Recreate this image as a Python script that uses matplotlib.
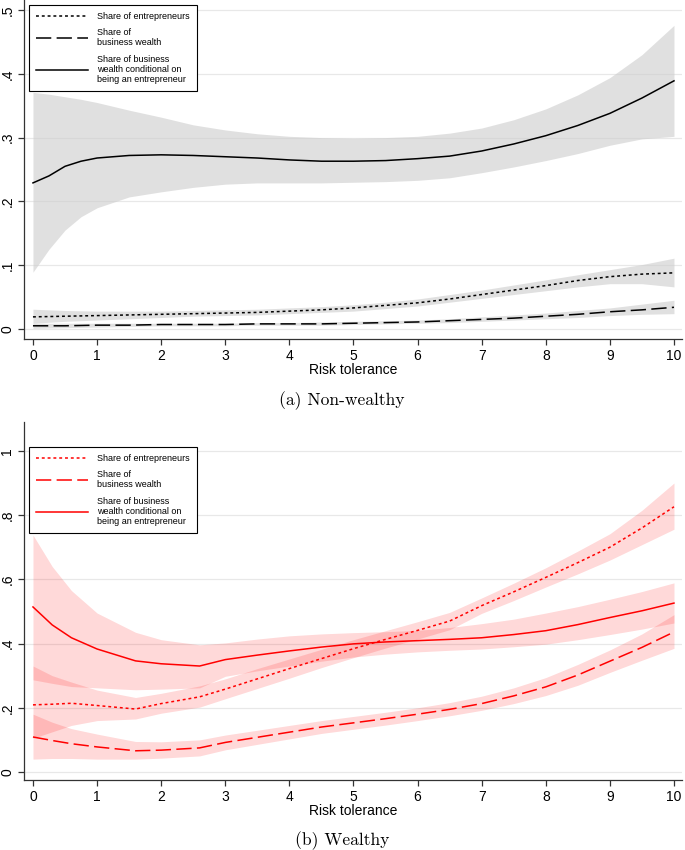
import numpy as np
import matplotlib
matplotlib.use('Agg')
import matplotlib.pyplot as plt
from matplotlib.lines import Line2D

plt.rcParams['font.family'] = ['Liberation Sans', 'DejaVu Sans']

# ---- panel (a): non-wealthy ----
x_a = [0, 0.5, 1, 1.5, 2, 2.5, 3, 3.5, 4, 4.5, 5, 5.5, 6, 6.5, 7, 7.5, 8, 8.5, 9, 9.5, 10]
ent_a = [.019, .020, .021, .022, .023, .024, .025, .026, .028, .030, .033, .037, .041, .047, .054, .061, .068, .076, .082, .086, .088]
ent_a_hi = [.031, .029, .028, .028, .028, .029, .030, .031, .033, .035, .038, .042, .047, .054, .061, .069, .077, .085, .093, .101, .111]
ent_a_lo = [.009, .012, .014, .016, .018, .020, .021, .022, .024, .026, .028, .032, .036, .042, .048, .054, .060, .066, .071, .071, .066]
bw_a = [.005, .005, .006, .006, .007, .007, .007, .008, .008, .008, .009, .010, .011, .013, .015, .017, .020, .023, .027, .030, .034]
bw_a_hi = [.009, .009, .009, .009, .009, .009, .009, .010, .010, .011, .012, .013, .014, .016, .019, .022, .025, .029, .033, .039, .045]
bw_a_lo = [.001, .002, .003, .004, .005, .005, .005, .006, .006, .006, .007, .008, .009, .010, .012, .014, .016, .018, .021, .023, .024]

x_a2 = [0, 0.25, 0.5, 0.75, 1, 1.5, 2, 2.5, 3, 3.5, 4, 4.5, 5, 5.5, 6, 6.5, 7, 7.5, 8, 8.5, 9, 9.5, 10]
cond_a = [.229, .240, .255, .263, .268, .272, .273, .272, .270, .268, .265, .263, .263, .264, .267, .271, .279, .290, .303, .319, .338, .362, .389]
cond_a_hi = [.371, .368, .364, .360, .355, .343, .332, .320, .312, .306, .302, .300, .299, .300, .302, .307, .315, .328, .345, .367, .394, .430, .476]
cond_a_lo = [.089, .125, .155, .176, .190, .207, .215, .222, .227, .229, .229, .229, .230, .231, .233, .237, .245, .254, .264, .275, .288, .298, .302]

# ---- panel (b): wealthy ----
x_b = [0, 0.3, 0.6, 1, 1.6, 2, 2.6, 3, 3.5, 4, 4.5, 5, 5.5, 6, 6.5, 7, 7.5, 8, 8.5, 9, 9.5, 10]
ent_b = [.209, .211, .214, .207, .196, .213, .234, .258, .290, .322, .353, .384, .413, .441, .470, .518, .561, .606, .652, .700, .760, .826]
ent_b_hi = [.330, .300, .280, .255, .232, .245, .268, .290, .322, .352, .382, .412, .440, .468, .497, .542, .588, .636, .688, .742, .815, .900]
ent_b_lo = [.105, .125, .145, .160, .165, .183, .202, .228, .260, .292, .325, .356, .386, .414, .443, .494, .534, .576, .617, .660, .708, .756]
bw_b = [.109, .098, .088, .078, .066, .068, .075, .092, .108, .124, .140, .153, .166, .180, .195, .213, .237, .265, .302, .345, .388, .436]
bw_b_hi = [.180, .155, .135, .118, .095, .094, .100, .115, .130, .145, .160, .173, .186, .200, .216, .236, .262, .294, .335, .380, .430, .490]
bw_b_lo = [.040, .042, .042, .040, .040, .043, .050, .069, .086, .103, .120, .133, .146, .160, .175, .192, .213, .238, .270, .310, .348, .385]
cond_b = [.514, .458, .418, .383, .346, .337, .330, .350, .364, .377, .389, .399, .405, .409, .413, .418, .428, .440, .459, .481, .502, .526]
cond_b_hi = [.738, .640, .565, .495, .435, .412, .396, .402, .414, .424, .430, .434, .437, .441, .450, .462, .476, .495, .515, .538, .562, .589]
cond_b_lo = [.287, .276, .266, .262, .256, .258, .262, .298, .315, .330, .345, .358, .367, .374, .379, .383, .390, .398, .412, .428, .445, .464]

xticks = list(range(11))
yticks_a = [0, .1, .2, .3, .4, .5]
ylabels_a = ['0', '.1', '.2', '.3', '.4', '.5']
yticks_b = [0, .2, .4, .6, .8, 1]
ylabels_b = ['0', '.2', '.4', '.6', '.8', '1']

leg_labels = ['Share of entrepreneurs', 'Share of\nbusiness wealth',
              'Share of business\nwealth conditional on\nbeing an entrepreneur']

DOT = (0, (1.9, 1.9))
DASH = (0, (10, 3.5))
LW = 1.1


def style_axes(ax, yticks, ylabels, ylim):
  ax.set_xlim(-0.14, 10.125)
  ax.set_ylim(*ylim)
  ax.set_xticks(xticks)
  ax.set_yticks(yticks)
  ax.set_yticklabels(ylabels, rotation = 90, va = 'center')
  ax.yaxis.grid(True, color = '#e8e8e8', lw = 0.9)
  ax.set_axisbelow(True)
  for s in ['top', 'right']:
    ax.spines[s].set_visible(False)
  for s in ['left', 'bottom']:
    ax.spines[s].set_color('#333333')
    ax.spines[s].set_linewidth(0.9)
  ax.tick_params(direction = 'out', length = 4, width = 0.9, color = '#333333', labelsize = 10, pad = 3)
  ax.set_xlabel('Risk tolerance', fontsize = 10, labelpad = 0)


def draw_panel(ax, color, band, alpha, data):
  for (xs, ys, lo, hi, ls) in data:
    ax.fill_between(xs, lo, hi, color = band, alpha = alpha, lw = 0)
  for (xs, ys, lo, hi, ls) in data:
    ax.plot(xs, ys, color = color, lw = LW, linestyle = ls)


def add_legend(ax, color, anchor):
  handles = [Line2D([], [], color = color, lw = LW, linestyle = DOT),
             Line2D([], [], color = color, lw = LW, linestyle = DASH),
             Line2D([], [], color = color, lw = LW)]
  leg = ax.legend(handles, leg_labels, loc = 'upper left', bbox_to_anchor = anchor,
                  bbox_transform = ax.figure.transFigure, fontsize = 6.5, frameon = True,
                  fancybox = False, framealpha = 1, edgecolor = 'black', borderaxespad = 0,
                  handlelength = 5.8, handletextpad = 1.0, borderpad = 0.75, labelspacing = 0.8)
  leg.get_frame().set_linewidth(0.8)


fig = plt.figure(figsize = (6.85, 8.5), dpi = 100)

ax1 = fig.add_axes([24 / 685, 1 - 339 / 850, 658 / 685, 339 / 850])
style_axes(ax1, yticks_a, ylabels_a, (-0.0157, 0.5157))
draw_panel(ax1, 'black', '#cccccc', 0.6, [
  (x_a, ent_a, ent_a_lo, ent_a_hi, DOT),
  (x_a, bw_a, bw_a_lo, bw_a_hi, DASH),
  (x_a2, cond_a, cond_a_lo, cond_a_hi, '-'),
])
add_legend(ax1, 'black', (29 / 685, 1 - 5 / 850))

ax2 = fig.add_axes([24 / 685, 1 - 780 / 850, 658 / 685, 358 / 850])
style_axes(ax2, yticks_b, ylabels_b, (-0.025, 1.09))
draw_panel(ax2, 'red', 'red', 0.15, [
  (x_b, ent_b, ent_b_lo, ent_b_hi, DOT),
  (x_b, bw_b, bw_b_lo, bw_b_hi, DASH),
  (x_b, cond_b, cond_b_lo, cond_b_hi, '-'),
])
add_legend(ax2, 'red', (29 / 685, 1 - 447 / 850))

fig.text(342 / 685, 1 - 401 / 850, '(a) Non-wealthy', family = 'cmr10', fontsize = 12.6, ha = 'center', va = 'center')
fig.text(342 / 685, 1 - 841 / 850, '(b) Wealthy', family = 'cmr10', fontsize = 12.6, ha = 'center', va = 'center')

fig.savefig('out.png', dpi = 100)
